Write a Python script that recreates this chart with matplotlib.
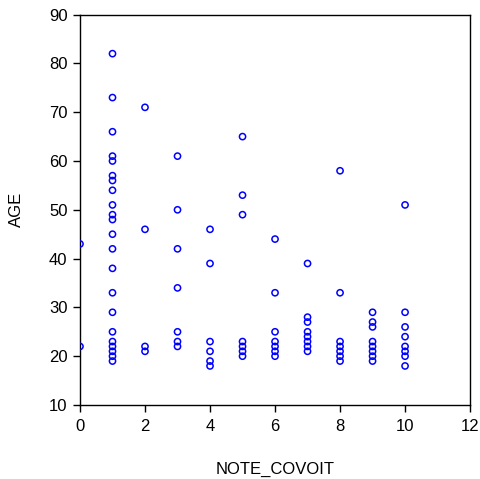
import numpy as np
import matplotlib.pyplot as plt

plt.rcParams['font.family'] = ['Liberation Sans', 'DejaVu Sans']

# NOTE_COVOIT score -> ages observed at that score
note_values = [0, 1, 2, 3, 4, 5, 6, 7, 8, 9, 10]
ages_by_note = [
    [43, 22],
    [82, 73, 66, 61, 60, 57, 56, 54, 51, 49, 48, 45, 42, 38, 33, 29, 25, 23, 22, 21, 20, 19],
    [71, 46, 22, 21],
    [61, 50, 42, 34, 25, 23, 22],
    [46, 39, 23, 21, 19, 18],
    [65, 53, 49, 23, 22, 21, 20],
    [44, 33, 25, 23, 22, 21, 20],
    [39, 28, 27, 25, 24, 23, 22, 21],
    [58, 33, 23, 22, 21, 20, 19],
    [29, 27, 26, 23, 22, 21, 20, 19],
    [51, 29, 26, 24, 22, 21, 20, 18],
]

note = np.concatenate([[n] * len(a) for n, a in zip(note_values, ages_by_note)])
age = np.concatenate(ages_by_note)

fig = plt.figure(figsize=(4.81, 4.79), dpi=100)
ax = fig.add_axes([0.1663, 0.1545, 0.811, 0.815])
ax.scatter(note, age, s=20, facecolors='none', edgecolors='#0000ff', linewidths=1.1, zorder=3)

ax.set_xlim(0, 12)
ax.set_ylim(10, 90)
ax.set_xticks(range(0, 13, 2))
ax.set_yticks(range(10, 91, 10))
ax.tick_params(direction='out', length=5, width=1, labelsize=12, colors='black')
ax.tick_params(axis='x', pad=5)
ax.tick_params(axis='y', pad=4)
for s in ax.spines.values():
    s.set_linewidth(1)
    s.set_color('black')

ax.set_xlabel('NOTE_COVOIT', fontsize=12, labelpad=20)
ax.set_ylabel('AGE', fontsize=12, labelpad=18)

fig.savefig('out.png', dpi=100)
